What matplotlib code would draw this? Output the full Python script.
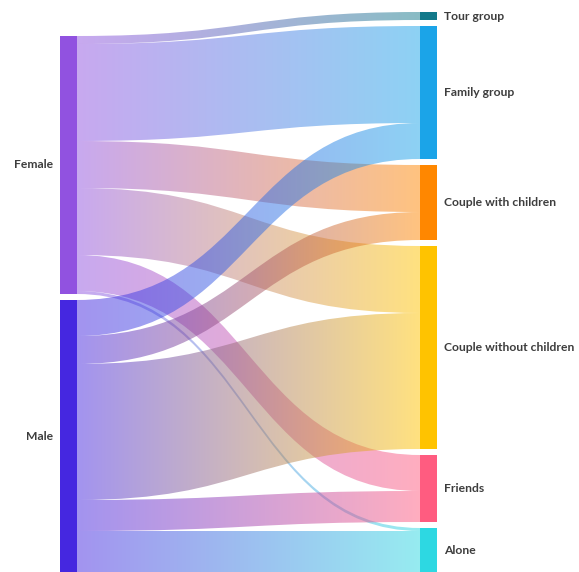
import numpy as np
import matplotlib
matplotlib.use('Agg')
import matplotlib.pyplot as plt
from matplotlib.path import Path
from matplotlib.patches import PathPatch, Rectangle
from matplotlib.colors import to_rgb

# data
sources = ['Female', 'Male']
targets = ['Tour group', 'Family group', 'Couple with children',
           'Couple without children', 'Friends', 'Alone']
female = [8, 97, 47, 67, 36, 3]
male = [0, 36, 28, 136, 31, 41]

source_colors = ['#9152E0', '#4527E0']
target_colors = ['#12798A', '#1BA4E8', '#FF8700', '#FFC300', '#FF5C80', '#2DD8E2']

flows = np.array([female, male], dtype=float)

# layout (pixels)
W, H = 579, 572
gap = 6
top = 12
x_left, x_right, node_w = 60, 420, 17
label_font = dict(fontsize=8.7, fontweight='bold', family='Lato', color='#3d3d3d')

fig = plt.figure(figsize=(W / 100, H / 100), dpi=100)
ax = fig.add_axes([0, 0, 1, 1])
ax.set_xlim(0, W)
ax.set_ylim(H, 0)
ax.axis('off')

total = flows.sum()
tgt_tot = flows.sum(axis=0)
src_tot = flows.sum(axis=1)

# right column from the top, left column bottom-aligned with it
bottom = top + total + gap * (len(targets) - 1)
tgt_y = top + np.concatenate([[0], np.cumsum(tgt_tot)[:-1]]) + gap * np.arange(len(targets))
src_top = bottom - (total + gap * (len(sources) - 1))
src_y = src_top + np.concatenate([[0], np.cumsum(src_tot)[:-1]]) + gap * np.arange(len(sources))

src_off = src_y.copy()
tgt_off = tgt_y.copy()
x0 = x_left + node_w
x1 = x_right
xm = (x0 + x1) / 2

grad = np.linspace(0, 1, 256)
for i in range(len(sources)):
    for j in range(len(targets)):
        v = flows[i, j]
        if v <= 0:
            continue
        sy0, sy1 = src_off[i], src_off[i] + v
        ty0, ty1 = tgt_off[j], tgt_off[j] + v
        src_off[i] += v
        tgt_off[j] += v
        verts = [(x0, sy0), (xm, sy0), (xm, ty0), (x1, ty0),
                 (x1, ty1), (xm, ty1), (xm, sy1), (x0, sy1), (x0, sy0)]
        codes = [Path.MOVETO, Path.CURVE4, Path.CURVE4, Path.CURVE4,
                 Path.LINETO, Path.CURVE4, Path.CURVE4, Path.CURVE4, Path.CLOSEPOLY]
        patch = PathPatch(Path(verts, codes), facecolor='none', edgecolor='none')
        ax.add_patch(patch)
        c0 = np.array(to_rgb(source_colors[i]))
        c1 = np.array(to_rgb(target_colors[j]))
        img = np.zeros((1, 256, 4))
        img[0, :, :3] = c0[None, :] * (1 - grad[:, None]) + c1[None, :] * grad[:, None]
        img[0, :, 3] = 0.5
        ymin, ymax = min(sy0, ty0), max(sy1, ty1)
        im = ax.imshow(img, extent=(x0, x1, ymax, ymin), aspect='auto',
                       interpolation='bilinear', zorder=1)
        im.set_clip_path(patch)

# nodes
for i, name in enumerate(sources):
    ax.add_patch(Rectangle((x_left, src_y[i]), node_w, src_tot[i],
                           facecolor=source_colors[i], edgecolor='none', zorder=3))
    ax.text(x_left - 7, src_y[i] + src_tot[i] / 2, name, ha='right', va='center', **label_font)

for j, name in enumerate(targets):
    ax.add_patch(Rectangle((x_right, tgt_y[j]), node_w, tgt_tot[j],
                           facecolor=target_colors[j], edgecolor='none', zorder=3))
    ax.text(x_right + node_w + 7, tgt_y[j] + tgt_tot[j] / 2, name, ha='left', va='center',
            **label_font)

fig.savefig('out.png', dpi=100)
